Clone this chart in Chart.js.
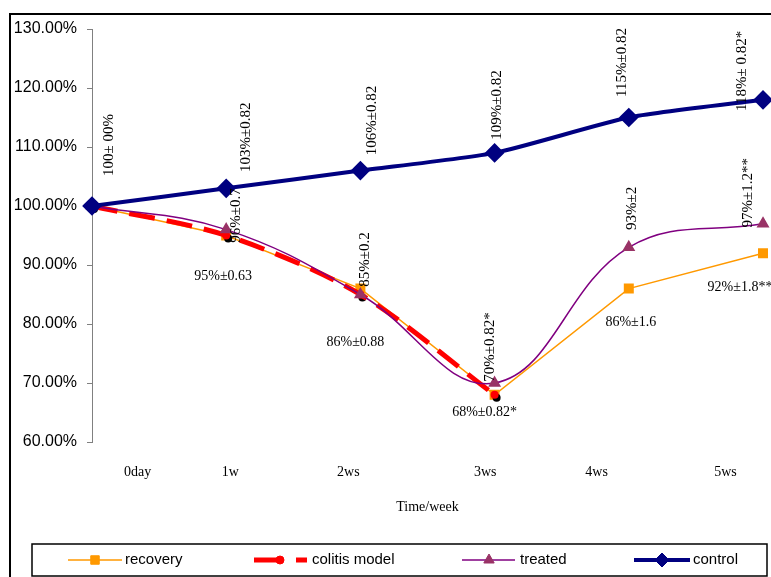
<!DOCTYPE html>
<html>
<head>
<meta charset="utf-8">
<script src="https://cdn.jsdelivr.net/npm/chart.js@4/dist/chart.umd.min.js"></script>
<style>
  html, body { margin: 0; padding: 0; background: #fff; overflow: hidden; }
  canvas { display: block; }
</style>
</head>
<body>
<canvas id="c" width="771" height="577"></canvas>
<script>
// Body weight over time (% of starting weight)
const categories = ['0day', '1w', '2ws', '3ws', '4ws', '5ws'];
const recovery = [100, 95, 86, 68, 86, 92];
const colitisModel = [100, 95, 85, 68, null, null];
const treated = [100, 96, 85, 70, 93, 97];
const control = [100, 103, 106, 109, 115, 118];

// Mean ± SD annotations
const controlLabels = ['100± 00%', '103%±0.82', '106%±0.82', '109%±0.82', '115%±0.82', '118%± 0.82*'];
const treatedLabels = [null, '96%±0.7', '85%±0.2', '70%±0.82*', '93%±2', '97%±1.2**'];
const recoveryLabels = [null, '95%±0.63', '86%±0.88', '68%±0.82*', '86%±1.6', '92%±1.8**'];

const xTitle = 'Time/week';

// where the week captions sit along the x range
const captionAt = [0.34, 1.03, 1.91, 2.93, 3.76, 4.72];

const serif = "'Liberation Serif', 'Times New Roman', serif";
const sans = "'Liberation Sans', Arial, sans-serif";

const frame = {
  id: 'frame',
  beforeDraw(chart) {
    const ctx = chart.ctx;
    ctx.save();
    ctx.fillStyle = '#fff';
    ctx.fillRect(0, 0, chart.width, chart.height);
    ctx.restore();
  },
  afterDraw(chart) {
    const ctx = chart.ctx;
    ctx.save();
    ctx.fillStyle = '#000';
    ctx.fillRect(9, 13, 2, chart.height - 13);
    ctx.fillRect(9, 13, chart.width - 9, 2);
    ctx.restore();
  }
};

// dark drop shadow under the colitis-model markers
const markerShadow = {
  id: 'markerShadow',
  beforeDatasetDraw(chart, args, opts) {
    if (args.index !== opts.dataset) return;
    const ctx = chart.ctx;
    ctx.save();
    ctx.fillStyle = '#000';
    args.meta.data.forEach(el => {
      if (el.skip) return;
      ctx.beginPath();
      ctx.arc(el.x + 2, el.y + 3, 4, 0, Math.PI * 2);
      ctx.fill();
    });
    ctx.restore();
  }
};

const valueLabels = {
  id: 'valueLabels',
  afterDatasetsDraw(chart, args, opts) {
    const ctx = chart.ctx;
    opts.sets.forEach(s => {
      const meta = chart.getDatasetMeta(s.dataset);
      s.texts.forEach((t, i) => {
        if (!t) return;
        const el = meta.data[i];
        const off = s.offsets[i];
        ctx.save();
        ctx.font = s.font;
        ctx.fillStyle = '#000';
        ctx.textAlign = 'center';
        ctx.textBaseline = 'middle';
        ctx.translate(el.x + off[0], el.y + off[1]);
        if (s.vertical) ctx.rotate(-Math.PI / 2);
        ctx.fillText(t, 0, 0);
        ctx.restore();
      });
    });
  }
};

const boxedLegend = {
  id: 'boxedLegend',
  afterDraw(chart, args, opts) {
    const ctx = chart.ctx;
    ctx.save();
    ctx.strokeStyle = '#000';
    ctx.lineWidth = 1.5;
    ctx.strokeRect(opts.box[0], opts.box[1], opts.box[2], opts.box[3]);
    const y = opts.box[1] + opts.box[3] / 2;
    opts.items.forEach(it => {
      const ds = chart.data.datasets[it.dataset];
      ctx.save();
      ctx.strokeStyle = ds.borderColor;
      ctx.lineWidth = ds.borderWidth;
      ctx.setLineDash(it.dash || []);
      ctx.beginPath();
      ctx.moveTo(it.x0, y);
      ctx.lineTo(it.x1, y);
      ctx.stroke();
      ctx.setLineDash([]);
      ctx.fillStyle = ds.pointBackgroundColor;
      ctx.strokeStyle = ds.pointBorderColor;
      ctx.lineWidth = 1;
      Chart.helpers.drawPoint(ctx, {
        pointStyle: ds.pointStyle, radius: ds.pointRadius, rotation: 0, borderWidth: 1
      }, it.marker, y);
      ctx.restore();
      ctx.fillStyle = '#000';
      ctx.font = '15px ' + sans;
      ctx.textAlign = 'left';
      ctx.textBaseline = 'middle';
      ctx.fillText(ds.label, it.text, y);
    });
    ctx.restore();
  }
};

new Chart(document.getElementById('c'), {
  type: 'line',
  data: {
    labels: categories,
    datasets: [
      {
        label: 'recovery', data: recovery, order: 3,
        borderColor: '#FF9900', borderWidth: 1.5, tension: 0,
        pointStyle: 'rect', pointRadius: 6,
        pointBackgroundColor: '#FF9900', pointBorderColor: '#FF9900'
      },
      {
        label: 'colitis model', data: colitisModel, order: 2,
        borderColor: '#FF0000', borderWidth: 5, borderDash: [26, 12], tension: 0.3,
        pointStyle: 'circle', pointRadius: 4, pointBorderWidth: 0,
        pointBackgroundColor: '#FF0000', pointBorderColor: '#FF0000'
      },
      {
        label: 'treated', data: treated, order: 1,
        borderColor: '#800080', borderWidth: 1.5, tension: 0.4,
        pointStyle: 'triangle', pointRadius: 6,
        pointBackgroundColor: '#993366', pointBorderColor: '#993366'
      },
      {
        label: 'control', data: control, order: 0,
        borderColor: '#000080', borderWidth: 4, tension: 0.2,
        pointStyle: 'rectRot', pointRadius: 7,
        pointBackgroundColor: '#000080', pointBorderColor: '#000080'
      }
    ]
  },
  options: {
    responsive: false,
    animation: false,
    devicePixelRatio: 1,
    layout: { autoPadding: false, padding: { left: 0, top: 29, right: 8, bottom: 55 } },
    scales: {
      x: { type: 'category', display: false, offset: false },
      xt: {
        type: 'linear', position: 'bottom', min: 0, max: 5,
        afterBuildTicks(axis) { axis.ticks = captionAt.map(v => ({ value: v })); },
        afterFit(axis) { axis.height = 80; },
        grid: { display: false, drawTicks: false },
        border: { display: false },
        ticks: {
          autoSkip: false, maxRotation: 0, padding: 22, color: '#000',
          font: { family: serif, size: 14 },
          callback: (v, i) => categories[i]
        },
        title: {
          display: true, text: xTitle, color: '#000',
          font: { family: serif, size: 14 }, padding: { top: 0, bottom: 6 }
        }
      },
      y: {
        min: 60, max: 130,
        afterFit(axis) { axis.width = 92; },
        grid: { drawOnChartArea: false, drawTicks: true, tickLength: 5, color: '#808080' },
        border: { display: true, color: '#808080', width: 1 },
        ticks: {
          stepSize: 10, padding: 10, color: '#000',
          font: { family: sans, size: 16 },
          callback: v => v.toFixed(2) + '%'
        }
      }
    },
    plugins: {
      legend: { display: false },
      tooltip: { enabled: false },
      markerShadow: { dataset: 1 },
      valueLabels: {
        sets: [
          { dataset: 3, texts: controlLabels, vertical: true, font: '15px ' + serif,
            offsets: [[17, -61], [20, -51], [12, -50], [2, -48], [-7, -55], [-21, -29]] },
          { dataset: 2, texts: treatedLabels, vertical: true, font: '15px ' + serif,
            offsets: [[0, 0], [10, -14], [5, -35], [-5, -36], [3, -39], [-15, -31]] },
          { dataset: 0, texts: recoveryLabels, vertical: false, font: '14px ' + serif,
            offsets: [[0, 0], [-3, 41], [-5, 54], [-10, 18], [2, 34], [-23, 34]] }
        ]
      },
      boxedLegend: {
        box: [32, 544, 735, 32],
        items: [
          { dataset: 0, x0: 68, x1: 122, marker: 95, text: 125 },
          { dataset: 1, x0: 254, x1: 307, marker: 280, text: 312, dash: [28, 14] },
          { dataset: 2, x0: 462, x1: 515, marker: 489, text: 520 },
          { dataset: 3, x0: 634, x1: 690, marker: 662, text: 693 }
        ]
      }
    }
  },
  plugins: [frame, markerShadow, valueLabels, boxedLegend]
});
</script>
</body>
</html>
